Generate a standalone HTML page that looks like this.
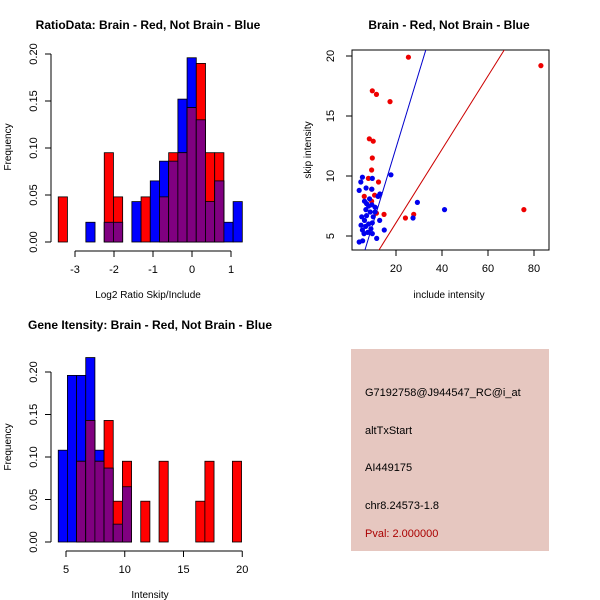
<!DOCTYPE html>
<html><head><meta charset="utf-8"><style>
body{margin:0;background:#fff;}
svg{display:block;font-family:"Liberation Sans",Arial,sans-serif;}
</style></head><body>
<svg id="c" width="600" height="600"></svg>
<script>
// Panel 1: log2 ratio histogram
const ratioBreakStart = -3.43;
const ratioBinWidth = 0.236;
const ratioRed  = [0.048,0,0,0,0,0.095,0.048,0,0,0.048,0,0.048,0.095,0.095,0.143,0.190,0.095,0.095,0,0];
const ratioBlue = [0,0,0,0.021,0,0.021,0.021,0,0.043,0,0.065,0.086,0.086,0.152,0.196,0.130,0.043,0.065,0.021,0.043];
const ratioXTicks = [-3,-2,-1,0,1];
const ratioYTicks = [0,0.05,0.10,0.15,0.20];
const ratioYLabels = ["0.00","0.05","0.10","0.15","0.20"];
// Panel 3: intensity histogram
const intBreakStart = 4.34;
const intBinWidth = 0.78;
const intRed  = [0,0,0.095,0.143,0.095,0.143,0.048,0.095,0,0.048,0,0.095,0,0,0,0.048,0.095,0,0,0.095];
const intBlue = [0.108,0.196,0.196,0.217,0.108,0.087,0.021,0.065,0,0,0,0,0,0,0,0,0,0,0,0];
const intXTicks = [5,10,15,20];
const intYTicks = [0,0.05,0.10,0.15,0.20];
const intYLabels = ["0.00","0.05","0.10","0.15","0.20"];
// Panel 2: scatter
const redX = [25.4,83,9.7,11.5,17.4,8.4,10.1,9.7,9.4,8,12.4,9.4,6.2,10.7,9.4,11.5,14.8,27.7,24.1,75.6];
const redY = [19.9,19.2,17.1,16.8,16.2,13.1,12.9,11.5,10.5,9.8,9.5,8.9,8.3,8.4,7.9,6.9,6.8,6.8,6.5,7.2];
const blueX = [17.8,5.4,9.7,4.7,4,7,9.5,13,12.2,8.5,6.3,29.3,41.1,27.4,14.9,11.6,9.7,4,5.5,8.1,9.5,10.9,6.9,8.8,5.1,7.2,10.1,12.9,6.3,8.1,9.7,4.8,6.8,5.4,7.7,6.1,9.1,10.9,7.2];
const blueY = [10.1,9.9,9.8,9.5,8.8,9,8.9,8.5,8.3,8.1,7.9,7.8,7.2,6.5,5.5,4.8,5.2,4.5,4.6,7.5,7.6,7.4,7.2,7.0,6.6,6.7,6.6,6.3,6.3,6.0,6.1,5.9,5.8,5.5,5.3,5.2,5.6,7.0,7.7];
const blueLine = [-0.26,0.63];
const redLine = [-0.02,0.306];
const scXTicks = [20,40,60,80];
const scYTicks = [5,10,15,20];

const svg=document.getElementById('c');
const NS='http://www.w3.org/2000/svg';
function mk(tag,attrs,parent){const e=document.createElementNS(NS,tag);for(const k in attrs)e.setAttribute(k,attrs[k]);(parent||svg).appendChild(e);return e;}
function txt(s,x,y,attrs,name){const t=mk('text',Object.assign({x:x,y:y,'font-size':11,'text-anchor':'middle',fill:'#000'},attrs||{}));t.textContent=s;


return t;}

function hist(opts){
  const g=mk('g',{});
  
  
  const sx=v=>opts.x0+(v-opts.xv0)*opts.xs;
  const sy=v=>opts.y0-v*opts.ys;
  for(let i=0;i<opts.red.length;i++){
    const a=sx(opts.bs+i*opts.bw), b=sx(opts.bs+(i+1)*opts.bw);
    const r=opts.red[i], bl=opts.blue[i], m=Math.min(r,bl);
    if(bl>0){const e=mk('rect',{x:a,y:sy(bl),width:b-a,height:sy(0)-sy(bl),fill:'#0000ff',stroke:'#000','stroke-width':0.8},g);
      }
    if(r>0){const e=mk('rect',{x:a,y:sy(r),width:b-a,height:sy(0)-sy(r),fill:'#ff0000',stroke:'#000','stroke-width':0.8},g);
      }
    if(m>0){const e=mk('rect',{x:a,y:sy(m),width:b-a,height:sy(0)-sy(m),fill:'#800080',stroke:'#000','stroke-width':0.8},g);
      }
  }
  // y axis
  const ya=opts.x0Axis;
  mk('line',{x1:ya,x2:ya,y1:sy(opts.yt[0]),y2:sy(opts.yt[opts.yt.length-1]),stroke:'#000'},g);
  opts.yt.forEach((v,i)=>{mk('line',{x1:ya,x2:ya-6,y1:sy(v),y2:sy(v),stroke:'#000'},g);
    txt(opts.yl[i],ya-14,sy(v),{transform:`rotate(-90 ${ya-14} ${sy(v)})`},'y-tick-label');});
  // x axis
  const xa=opts.y0+9;
  mk('line',{x1:sx(opts.xt[0]),x2:sx(opts.xt[opts.xt.length-1]),y1:xa,y2:xa,stroke:'#000'},g);
  opts.xt.forEach(v=>{mk('line',{x1:sx(v),x2:sx(v),y1:xa,y2:xa+6,stroke:'#000'},g);
    txt(String(v),sx(v),xa+22,{},'x-tick-label');});
}
hist({name:'ratio-histogram',red:ratioRed,blue:ratioBlue,bs:ratioBreakStart,bw:ratioBinWidth,x0:192,xv0:0,xs:39,y0:242,ys:940,x0Axis:51,yt:ratioYTicks,yl:ratioYLabels,xt:ratioXTicks});
hist({name:'intensity-histogram',red:intRed,blue:intBlue,bs:intBreakStart,bw:intBinWidth,x0:66,xv0:5,xs:11.75,y0:542,ys:850,x0Axis:51,yt:intYTicks,yl:intYLabels,xt:intXTicks});

txt('RatioData: Brain - Red, Not Brain - Blue',148,29,{'font-size':12,'font-weight':'bold'},'ratio-title');
txt('Log2 Ratio Skip/Include',148,298,{'font-size':10},'ratio-x-title');
txt('Frequency',11,147,{'font-size':10,transform:'rotate(-90 11 147)'},'ratio-y-title');
txt('Gene Itensity: Brain - Red, Not Brain - Blue',150,329,{'font-size':12,'font-weight':'bold'},'intensity-title');
txt('Intensity',150,598,{'font-size':10},'intensity-x-title');
txt('Frequency',11,447,{'font-size':10,transform:'rotate(-90 11 447)'},'intensity-y-title');

// scatter
const sg=mk('g',{});


const X=v=>350+v*2.3, Y=v=>296-v*12;
const clip=mk('clipPath',{id:'cp'},sg);mk('rect',{x:352,y:50,width:197,height:200},clip);
mk('rect',{x:352,y:50,width:197,height:200,fill:'none',stroke:'#000'},sg);
function abline(l,col,name){const x1=0,x2=100;const e=mk('line',{x1:X(x1),y1:Y(l[0]+l[1]*x1),x2:X(x2),y2:Y(l[0]+l[1]*x2),stroke:col,'stroke-width':1,'clip-path':'url(#cp)'},sg);
  }
abline(blueLine,'#0000cc','blue-fit-line');
abline(redLine,'#cc0000','red-fit-line');
redX.forEach((v,i)=>{const e=mk('circle',{cx:X(v),cy:Y(redY[i]),r:2.6,fill:'#ee0000'},sg);
  });
blueX.forEach((v,i)=>{const e=mk('circle',{cx:X(v),cy:Y(blueY[i]),r:2.6,fill:'#0000ee'},sg);
  });
scXTicks.forEach(v=>{mk('line',{x1:X(v),x2:X(v),y1:250,y2:256,stroke:'#000'},sg);txt(String(v),X(v),272,{},'scatter-x-tick-label');});
scYTicks.forEach(v=>{mk('line',{x1:352,x2:346,y1:Y(v),y2:Y(v),stroke:'#000'},sg);txt(String(v),334,Y(v),{transform:`rotate(-90 334 ${Y(v)})`},'scatter-y-tick-label');});
txt('Brain - Red, Not Brain - Blue',449,29,{'font-size':12,'font-weight':'bold'},'scatter-title');
txt('include intensity',449,298,{'font-size':10},'scatter-x-title');
txt('skip intensity',311,150,{'font-size':10,transform:'rotate(-90 311 150)'},'scatter-y-title');

// info box
const ib=mk('rect',{x:351,y:349,width:198,height:202,fill:'#e6c7c0'});


txt('G7192758@J944547_RC@i_at',365,396,{'text-anchor':'start'},'probe-id');
txt('altTxStart',365,434,{'text-anchor':'start'},'event-type');
txt('AI449175',365,471,{'text-anchor':'start'},'accession');
txt('chr8.24573-1.8',365,509,{'text-anchor':'start'},'location');
txt('Pval: 2.000000',365,537,{'text-anchor':'start',fill:'#aa0000'},'p-value');
</script>
</body></html>
